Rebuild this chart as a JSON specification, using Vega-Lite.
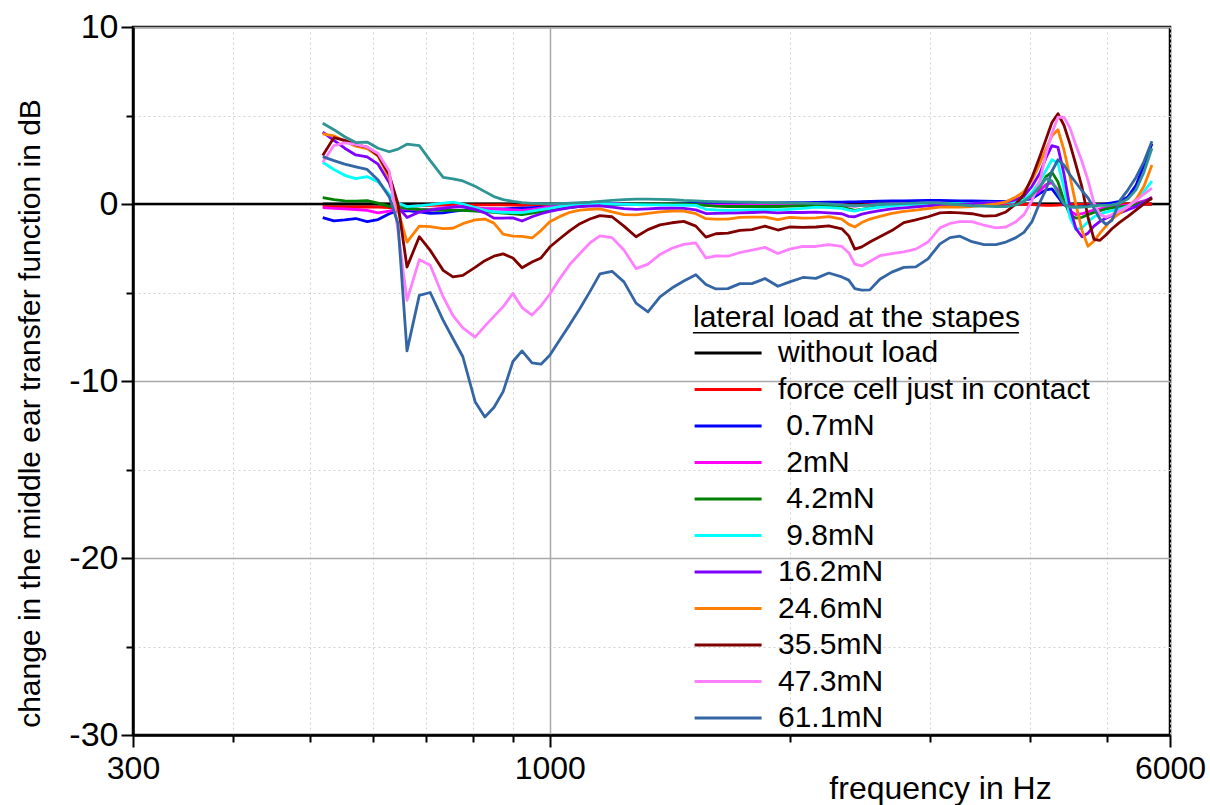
{
 "$schema": "https://vega.github.io/schema/vega-lite/v6.json",
 "width": 1037, "height": 708,
 "autosize": {"type": "none"},
 "padding": {"left": 133, "top": 27, "right": 40, "bottom": 70},
 "background": "white",
 "config": {
  "font": "Liberation Sans",
  "view": {"stroke": "black", "strokeWidth": 2.5},
  "axis": {"domainColor": "black", "domainWidth": 2.5, "tickColor": "black", "tickWidth": 2, "labelColor": "black", "titleColor": "black", "titleFontWeight": "normal", "labelFlush": false, "labelOverlap": false}
 },
 "datasets": {
  "names": [
   {"key": "w", "label": "without load"},
   {"key": "r", "label": "force cell just in contact"},
   {"key": "b", "label": "\u200b\u00a00.7mN"},
   {"key": "m", "label": "\u200b\u00a02mN"},
   {"key": "g", "label": "\u200b\u00a04.2mN"},
   {"key": "c", "label": "\u200b\u00a09.8mN"},
   {"key": "p", "label": "16.2mN"},
   {"key": "o", "label": "24.6mN"},
   {"key": "d", "label": "35.5mN"},
   {"key": "k", "label": "47.3mN"},
   {"key": "s", "label": "61.1mN"}
  ],
  "curves": [
   {"f":519,"w":0,"r":-0.15,"b":-0.77,"m":-0.2,"g":0.36,"c":2.36,"p":4.06,"o":3.96,"d":2.74,"k":2.36,"s":2.68,"t":4.56},
   {"f":536,"w":0,"r":-0.16,"b":-0.95,"m":-0.25,"g":0.25,"c":1.95,"p":3.6,"o":3.85,"d":3.75,"k":3.3,"s":2.45,"t":4.2},
   {"f":553,"w":0,"r":-0.17,"b":-0.9,"m":-0.28,"g":0.18,"c":1.62,"p":3.15,"o":3.55,"d":3.6,"k":3.45,"s":2.25,"t":3.8},
   {"f":571,"w":0,"r":-0.17,"b":-0.82,"m":-0.31,"g":0.16,"c":1.43,"p":2.77,"o":3.27,"d":3.35,"k":3.37,"s":2.1,"t":3.47},
   {"f":590,"w":0,"r":-0.17,"b":-1.0,"m":-0.36,"g":0.19,"c":1.55,"p":2.66,"o":3.13,"d":3.22,"k":3.22,"s":1.95,"t":3.5},
   {"f":609,"w":0,"r":-0.18,"b":-0.88,"m":-0.5,"g":0.05,"c":1.25,"p":2.25,"o":2.7,"d":2.75,"k":2.85,"s":1.35,"t":3.15},
   {"f":629,"w":0,"r":-0.2,"b":-0.55,"m":-0.4,"g":-0.13,"c":0.55,"p":1.2,"o":1.45,"d":1.65,"k":1.85,"s":0.4,"t":2.95},
   {"f":645,"w":0,"r":-0.25,"b":-0.38,"m":-0.3,"g":-0.19,"c":0.05,"p":-0.17,"o":-0.35,"d":0.0,"k":-1.5,"s":-1.1,"t":3.1},
   {"f":662,"w":0,"r":-0.15,"b":-0.38,"m":-0.27,"g":-0.24,"c":-0.15,"p":-0.76,"o":-2.15,"d":-3.56,"k":-5.44,"s":-8.3,"t":3.38},
   {"f":686,"w":0,"r":-0.1,"b":-0.45,"m":-0.34,"g":-0.31,"c":-0.1,"p":-0.45,"o":-1.25,"d":-1.85,"k":-3.14,"s":-5.16,"t":3.3},
   {"f":708,"w":0,"r":-0.08,"b":-0.53,"m":-0.3,"g":-0.34,"c":-0.04,"p":-0.36,"o":-1.28,"d":-2.62,"k":-3.46,"s":-5.0,"t":2.45},
   {"f":735,"w":0,"r":-0.06,"b":-0.5,"m":-0.22,"g":-0.36,"c":0.05,"p":-0.25,"o":-1.39,"d":-3.75,"k":-5.25,"s":-6.57,"t":1.5},
   {"f":756,"w":0,"r":-0.05,"b":-0.42,"m":-0.16,"g":-0.36,"c":0.11,"p":-0.18,"o":-1.37,"d":-4.12,"k":-6.3,"s":-7.6,"t":1.42},
   {"f":778,"w":0,"r":-0.05,"b":-0.35,"m":-0.14,"g":-0.36,"c":0.0,"p":-0.15,"o":-1.11,"d":-4.03,"k":-7.0,"s":-8.63,"t":1.3},
   {"f":806,"w":0,"r":-0.05,"b":-0.27,"m":-0.2,"g":-0.4,"c":-0.2,"p":-0.3,"o":-0.9,"d":-3.58,"k":-7.52,"s":-11.17,"t":1.0},
   {"f":829,"w":0,"r":-0.05,"b":-0.27,"m":-0.26,"g":-0.44,"c":-0.36,"p":-0.5,"o":-0.85,"d":-3.2,"k":-6.9,"s":-12.03,"t":0.7},
   {"f":851,"w":0,"r":-0.05,"b":-0.27,"m":-0.28,"g":-0.47,"c":-0.45,"p":-0.8,"o":-1.08,"d":-2.95,"k":-6.35,"s":-11.5,"t":0.42},
   {"f":874,"w":0,"r":-0.05,"b":-0.27,"m":-0.3,"g":-0.52,"c":-0.47,"p":-0.8,"o":-1.7,"d":-2.82,"k":-5.8,"s":-10.6,"t":0.25},
   {"f":899,"w":0,"r":-0.06,"b":-0.25,"m":-0.33,"g":-0.56,"c":-0.48,"p":-0.78,"o":-1.82,"d":-3.05,"k":-5.05,"s":-8.9,"t":0.15},
   {"f":923,"w":0,"r":-0.07,"b":-0.23,"m":-0.36,"g":-0.6,"c":-0.49,"p":-0.96,"o":-1.83,"d":-3.6,"k":-5.85,"s":-8.3,"t":0.08},
   {"f":950,"w":0,"r":-0.05,"b":-0.2,"m":-0.3,"g":-0.52,"c":-0.4,"p":-0.72,"o":-1.92,"d":-3.28,"k":-6.28,"s":-8.98,"t":0.04},
   {"f":975,"w":0,"r":-0.04,"b":-0.18,"m":-0.23,"g":-0.43,"c":-0.32,"p":-0.55,"o":-1.5,"d":-3.05,"k":-5.75,"s":-9.05,"t":0.02},
   {"f":1000,"w":0,"r":-0.03,"b":-0.17,"m":-0.17,"g":-0.36,"c":-0.25,"p":-0.42,"o":-1.0,"d":-2.43,"k":-5.1,"s":-8.55,"t":0.0},
   {"f":1030,"w":0,"r":-0.02,"b":-0.12,"m":-0.12,"g":-0.28,"c":-0.15,"p":-0.3,"o":-0.7,"d":-1.95,"k":-4.2,"s":-7.65,"t":0.02},
   {"f":1060,"w":0,"r":-0.02,"b":-0.08,"m":-0.08,"g":-0.2,"c":-0.08,"p":-0.2,"o":-0.47,"d":-1.5,"k":-3.4,"s":-6.8,"t":0.05},
   {"f":1091,"w":0,"r":-0.01,"b":-0.05,"m":-0.05,"g":-0.13,"c":-0.04,"p":-0.14,"o":-0.35,"d":-1.11,"k":-2.8,"s":-5.9,"t":0.08},
   {"f":1123,"w":0,"r":-0.01,"b":-0.03,"m":-0.03,"g":-0.08,"c":0.0,"p":-0.12,"o":-0.3,"d":-0.85,"k":-2.2,"s":-4.95,"t":0.1},
   {"f":1156,"w":0,"r":0.0,"b":-0.02,"m":-0.02,"g":-0.05,"c":0.02,"p":-0.1,"o":-0.27,"d":-0.66,"k":-1.8,"s":-3.95,"t":0.15},
   {"f":1197,"w":0,"r":0.0,"b":0.0,"m":0.0,"g":-0.02,"c":0.0,"p":-0.18,"o":-0.45,"d":-0.72,"k":-1.9,"s":-3.8,"t":0.2},
   {"f":1239,"w":0,"r":0.0,"b":0.0,"m":0.0,"g":0.0,"c":-0.02,"p":-0.26,"o":-0.6,"d":-1.25,"k":-2.6,"s":-4.4,"t":0.25},
   {"f":1283,"w":0,"r":0.0,"b":0.01,"m":0.02,"g":0.02,"c":-0.04,"p":-0.3,"o":-0.62,"d":-1.85,"k":-3.65,"s":-5.6,"t":0.28},
   {"f":1328,"w":0,"r":0.0,"b":0.01,"m":0.02,"g":0.02,"c":-0.05,"p":-0.27,"o":-0.53,"d":-1.45,"k":-3.4,"s":-6.1,"t":0.28},
   {"f":1375,"w":0,"r":0.0,"b":0.02,"m":0.02,"g":0.02,"c":-0.05,"p":-0.24,"o":-0.45,"d":-1.18,"k":-2.85,"s":-5.25,"t":0.26},
   {"f":1423,"w":0,"r":0.0,"b":0.02,"m":0.0,"g":0.02,"c":-0.06,"p":-0.23,"o":-0.4,"d":-1.06,"k":-2.5,"s":-4.75,"t":0.24},
   {"f":1473,"w":0,"r":-0.01,"b":0.02,"m":-0.02,"g":0.0,"c":-0.07,"p":-0.25,"o":-0.4,"d":-0.98,"k":-2.28,"s":-4.35,"t":0.2},
   {"f":1525,"w":0,"r":-0.02,"b":0.03,"m":-0.04,"g":-0.02,"c":-0.08,"p":-0.33,"o":-0.55,"d":-1.25,"k":-2.2,"s":-4.0,"t":0.18},
   {"f":1570,"w":0,"r":-0.04,"b":0.03,"m":-0.06,"g":-0.08,"c":-0.3,"p":-0.54,"o":-0.83,"d":-1.87,"k":-3.05,"s":-4.55,"t":0.15},
   {"f":1616,"w":0,"r":-0.05,"b":0.03,"m":-0.07,"g":-0.12,"c":-0.34,"p":-0.53,"o":-0.86,"d":-1.68,"k":-2.93,"s":-4.8,"t":0.13},
   {"f":1673,"w":0,"r":-0.05,"b":0.04,"m":-0.07,"g":-0.14,"c":-0.36,"p":-0.52,"o":-0.85,"d":-1.64,"k":-2.95,"s":-4.78,"t":0.12},
   {"f":1732,"w":0,"r":-0.04,"b":0.04,"m":-0.06,"g":-0.14,"c":-0.35,"p":-0.5,"o":-0.76,"d":-1.49,"k":-2.74,"s":-4.5,"t":0.11},
   {"f":1793,"w":0,"r":-0.03,"b":0.05,"m":-0.05,"g":-0.14,"c":-0.33,"p":-0.48,"o":-0.74,"d":-1.45,"k":-2.6,"s":-4.5,"t":0.1},
   {"f":1862,"w":0,"r":-0.02,"b":0.05,"m":-0.05,"g":-0.14,"c":-0.32,"p":-0.46,"o":-0.74,"d":-1.25,"k":-2.45,"s":-4.21,"t":0.08},
   {"f":1933,"w":0,"r":-0.02,"b":0.06,"m":-0.05,"g":-0.14,"c":-0.33,"p":-0.5,"o":-0.88,"d":-1.47,"k":-2.8,"s":-4.65,"t":0.07},
   {"f":2000,"w":0,"r":-0.02,"b":0.07,"m":-0.04,"g":-0.12,"c":-0.3,"p":-0.47,"o":-0.76,"d":-1.3,"k":-2.55,"s":-4.4,"t":0.06},
   {"f":2078,"w":0,"r":-0.02,"b":0.08,"m":-0.03,"g":-0.1,"c":-0.25,"p":-0.48,"o":-0.8,"d":-1.32,"k":-2.4,"s":-4.15,"t":0.05},
   {"f":2157,"w":0,"r":-0.02,"b":0.09,"m":-0.02,"g":-0.1,"c":-0.18,"p":-0.46,"o":-0.78,"d":-1.3,"k":-2.4,"s":-4.2,"t":0.03},
   {"f":2239,"w":0,"r":-0.03,"b":0.11,"m":-0.03,"g":-0.12,"c":-0.2,"p":-0.5,"o":-0.71,"d":-1.23,"k":-2.3,"s":-3.9,"t":0.0},
   {"f":2325,"w":0,"r":-0.04,"b":0.11,"m":-0.05,"g":-0.17,"c":-0.25,"p":-0.55,"o":-0.85,"d":-1.4,"k":-2.4,"s":-4.12,"t":-0.05},
   {"f":2372,"w":0,"r":-0.06,"b":0.12,"m":-0.1,"g":-0.28,"c":-0.35,"p":-0.7,"o":-1.15,"d":-1.8,"k":-2.75,"s":-4.3,"t":-0.08},
   {"f":2414,"w":0,"r":-0.07,"b":0.12,"m":-0.12,"g":-0.36,"c":-0.4,"p":-0.72,"o":-1.3,"d":-2.55,"k":-3.4,"s":-4.78,"t":-0.1},
   {"f":2463,"w":0,"r":-0.06,"b":0.13,"m":-0.08,"g":-0.3,"c":-0.3,"p":-0.57,"o":-1.05,"d":-2.42,"k":-3.5,"s":-4.87,"t":-0.08},
   {"f":2521,"w":0,"r":-0.05,"b":0.14,"m":-0.05,"g":-0.22,"c":-0.25,"p":-0.48,"o":-0.85,"d":-2.15,"k":-3.25,"s":-4.85,"t":-0.06},
   {"f":2595,"w":0,"r":-0.04,"b":0.16,"m":-0.03,"g":-0.15,"c":-0.18,"p":-0.38,"o":-0.7,"d":-1.85,"k":-2.92,"s":-4.25,"t":-0.02},
   {"f":2686,"w":0,"r":-0.03,"b":0.17,"m":0.0,"g":-0.08,"c":-0.1,"p":-0.28,"o":-0.53,"d":-1.5,"k":-2.8,"s":-3.85,"t":0.0},
   {"f":2781,"w":0,"r":-0.02,"b":0.18,"m":0.02,"g":-0.02,"c":-0.05,"p":-0.22,"o":-0.42,"d":-1.05,"k":-2.7,"s":-3.58,"t":0.02},
   {"f":2879,"w":0,"r":-0.01,"b":0.19,"m":0.03,"g":0.01,"c":-0.02,"p":-0.16,"o":-0.34,"d":-0.9,"k":-2.55,"s":-3.55,"t":0.05},
   {"f":2982,"w":0,"r":0.0,"b":0.2,"m":0.03,"g":0.02,"c":0.0,"p":-0.1,"o":-0.26,"d":-0.72,"k":-2.15,"s":-3.1,"t":0.08},
   {"f":3087,"w":0,"r":0.0,"b":0.2,"m":0.03,"g":0.03,"c":0.02,"p":-0.06,"o":-0.18,"d":-0.5,"k":-1.35,"s":-2.25,"t":0.05},
   {"f":3178,"w":0,"r":0.0,"b":0.19,"m":0.03,"g":0.03,"c":0.02,"p":-0.04,"o":-0.17,"d":-0.47,"k":-1.1,"s":-1.9,"t":0.0},
   {"f":3271,"w":0,"r":0.0,"b":0.18,"m":0.03,"g":0.03,"c":0.02,"p":-0.02,"o":-0.17,"d":-0.5,"k":-1.0,"s":-1.82,"t":-0.05},
   {"f":3386,"w":0,"r":0.0,"b":0.17,"m":0.03,"g":0.04,"c":0.03,"p":0.02,"o":-0.14,"d":-0.55,"k":-1.0,"s":-2.13,"t":-0.1},
   {"f":3506,"w":0,"r":0.0,"b":0.16,"m":0.03,"g":0.04,"c":0.05,"p":0.05,"o":-0.08,"d":-0.68,"k":-1.2,"s":-2.3,"t":-0.12},
   {"f":3629,"w":0,"r":0.0,"b":0.15,"m":0.04,"g":0.05,"c":0.07,"p":0.08,"o":0.0,"d":-0.66,"k":-1.35,"s":-2.3,"t":-0.15},
   {"f":3735,"w":0,"r":0.0,"b":0.15,"m":0.05,"g":0.08,"c":0.1,"p":0.11,"o":0.12,"d":-0.45,"k":-1.3,"s":-2.15,"t":-0.15},
   {"f":3845,"w":0,"r":0.0,"b":0.17,"m":0.1,"g":0.15,"c":0.14,"p":0.25,"o":0.4,"d":0.0,"k":-1.0,"s":-1.9,"t":-0.05},
   {"f":3935,"w":0,"r":-0.02,"b":0.22,"m":0.2,"g":0.28,"c":0.22,"p":0.45,"o":0.7,"d":0.55,"k":-0.6,"s":-1.6,"t":0.15},
   {"f":4027,"w":0,"r":-0.04,"b":0.3,"m":0.4,"g":0.5,"c":0.65,"p":1.0,"o":1.35,"d":1.5,"k":0.2,"s":-1.0,"t":0.5},
   {"f":4121,"w":0,"r":-0.06,"b":0.6,"m":0.75,"g":0.95,"c":1.3,"p":1.75,"o":2.3,"d":2.7,"k":1.33,"s":0.1,"t":1.0},
   {"f":4193,"w":0,"r":-0.08,"b":0.8,"m":1.1,"g":1.55,"c":1.9,"p":2.6,"o":3.1,"d":3.65,"k":2.8,"s":0.8,"t":1.45},
   {"f":4266,"w":0,"r":-0.08,"b":0.85,"m":1.2,"g":1.8,"c":2.5,"p":3.3,"o":3.85,"d":4.6,"k":4.0,"s":1.85,"t":1.3},
   {"f":4341,"w":0,"r":-0.06,"b":0.4,"m":0.8,"g":1.24,"c":2.3,"p":3.2,"o":4.2,"d":5.1,"k":4.9,"s":2.5,"t":0.6},
   {"f":4417,"w":0,"r":-0.04,"b":-0.05,"m":0.1,"g":0.2,"c":0.9,"p":1.7,"o":3.05,"d":4.45,"k":4.9,"s":2.2,"t":0.0},
   {"f":4494,"w":0,"r":-0.03,"b":-0.15,"m":-0.4,"g":-0.6,"c":-0.75,"p":-0.2,"o":1.55,"d":3.4,"k":4.3,"s":1.65,"t":-0.17},
   {"f":4573,"w":0,"r":-0.02,"b":-0.17,"m":-0.6,"g":-0.8,"c":-1.45,"p":-1.4,"o":-0.05,"d":2.2,"k":3.3,"s":1.2,"t":-0.17},
   {"f":4653,"w":0,"r":-0.02,"b":-0.15,"m":-0.55,"g":-0.75,"c":-1.35,"p":-1.85,"o":-1.49,"d":0.95,"k":2.4,"s":0.75,"t":-0.17},
   {"f":4734,"w":0,"r":-0.02,"b":-0.1,"m":-0.45,"g":-0.6,"c":-1.0,"p":-1.65,"o":-2.39,"d":-0.74,"k":1.35,"s":0.35,"t":-0.15},
   {"f":4817,"w":0,"r":-0.02,"b":-0.06,"m":-0.35,"g":-0.48,"c":-0.72,"p":-1.25,"o":-2.1,"d":-2.0,"k":0.05,"s":-0.25,"t":-0.1},
   {"f":4901,"w":0,"r":-0.02,"b":-0.03,"m":-0.28,"g":-0.38,"c":-0.58,"p":-0.98,"o":-1.65,"d":-2.05,"k":-0.6,"s":-0.85,"t":-0.08},
   {"f":4987,"w":0,"r":-0.02,"b":0.0,"m":-0.22,"g":-0.28,"c":-0.46,"p":-0.8,"o":-1.25,"d":-1.75,"k":-0.74,"s":-1.15,"t":-0.08},
   {"f":5074,"w":0,"r":-0.01,"b":0.06,"m":-0.18,"g":-0.22,"c":-0.38,"p":-0.65,"o":-0.85,"d":-1.4,"k":-0.6,"s":-0.92,"t":-0.05},
   {"f":5193,"w":0,"r":-0.01,"b":0.15,"m":-0.12,"g":-0.16,"c":-0.28,"p":-0.5,"o":-0.5,"d":-1.02,"k":-0.38,"s":0.2,"t":0.05},
   {"f":5314,"w":0,"r":0.0,"b":0.4,"m":-0.06,"g":-0.12,"c":-0.12,"p":-0.32,"o":-0.15,"d":-0.7,"k":-0.15,"s":0.8,"t":0.3},
   {"f":5438,"w":0,"r":0.0,"b":1.05,"m":0.05,"g":-0.03,"c":0.2,"p":-0.15,"o":0.25,"d":-0.35,"k":0.2,"s":1.5,"t":0.8},
   {"f":5565,"w":0,"r":0.0,"b":2.2,"m":0.18,"g":0.12,"c":0.7,"p":0.1,"o":1.0,"d":0.0,"k":0.55,"s":2.4,"t":1.8},
   {"f":5695,"w":0,"r":0.0,"b":3.4,"m":0.3,"g":0.3,"c":1.3,"p":0.39,"o":2.2,"d":0.35,"k":0.9,"s":3.55,"t":3.15}
  ]
 },
 "layer": [
  {
   "data": {"values": [{"z": 0}]},
   "mark": {"type": "rule", "color": "black", "strokeWidth": 2.5},
   "encoding": {
    "y": {"field": "z", "type": "quantitative", "scale": {"domain": [-30, 10], "nice": false, "zero": false},
     "axis": {
      "values": [-30, -25, -20, -15, -10, -5, 0, 5, 10],
      "labelExpr": "datum.value % 10 == 0 ? toString(datum.value) : ''",
      "title": "change in the middle ear transfer function in dB",
      "titleFontSize": 30, "titleX": -103, "titleY": 386, "titleAngle": -90, "titleAlign": "center", "titleBaseline": "middle",
      "labelFontSize": 34, "labelPadding": 3,
      "tickSize": {"condition": {"test": "datum.value % 10 == 0", "value": 12}, "value": 7},
      "grid": true,
      "gridColor": {"condition": {"test": "datum.value % 10 == 0", "value": "#a9a9a9"}, "value": "#d2d2d2"},
      "gridDash": {"condition": {"test": "datum.value % 10 == 0", "value": []}, "value": [2, 3]},
      "gridWidth": {"condition": {"test": "datum.value % 10 == 0", "value": 1.5}, "value": 1}
     }
    }
   }
  },
  {
   "data": {"name": "curves"},
   "transform": [
    {"fold": ["w", "r", "b", "m", "g", "c", "p", "o", "d", "k", "s"], "as": ["key", "val"]},
    {"lookup": "key", "from": {"data": {"name": "names"}, "key": "key", "fields": ["label"]}}
   ],
   "mark": {"type": "line", "strokeWidth": 2.8, "strokeJoin": "round"},
   "encoding": {
    "x": {"field": "f", "type": "quantitative", "scale": {"type": "log", "domain": [300, 6000], "nice": false},
     "axis": {
      "values": [300, 400, 500, 600, 700, 800, 900, 1000, 2000, 3000, 4000, 5000, 6000],
      "labelExpr": "(datum.value == 300 || datum.value == 1000 || datum.value == 6000) ? toString(datum.value) : ''",
      "title": "frequency in Hz",
      "titleFontSize": 32, "titleX": 807, "titleY": 63, "titleAlign": "center", "titleBaseline": "alphabetic",
      "labelFontSize": 32, "labelPadding": 6,
      "tickSize": {"condition": {"test": "datum.value == 300 || datum.value == 1000 || datum.value == 6000", "value": 12}, "value": 7},
      "grid": true,
      "gridColor": {"condition": {"test": "datum.value == 1000", "value": "#a9a9a9"}, "value": "#d2d2d2"},
      "gridDash": {"condition": {"test": "datum.value == 1000", "value": []}, "value": [2, 3]},
      "gridWidth": {"condition": {"test": "datum.value == 1000", "value": 1.5}, "value": 1}
     }
    },
    "y": {"field": "val", "type": "quantitative"},
    "color": {
     "field": "label", "type": "nominal",
     "scale": {
      "domain": ["without load", "force cell just in contact", "\u200b\u00a00.7mN", "\u200b\u00a02mN", "\u200b\u00a04.2mN", "\u200b\u00a09.8mN", "16.2mN", "24.6mN", "35.5mN", "47.3mN", "61.1mN"],
      "range": ["#000000", "#ff0000", "#0000ff", "#ff00ff", "#008000", "#00ffff", "#8000ff", "#ff8000", "#800000", "#ff80ff", "#3465a4"]
     },
     "legend": {
      "orient": "none", "legendX": 560, "legendY": 276,
      "title": "lateral load at the stapes", "titleLimit": 800,
      "titleFontSize": 30, "titleFontWeight": "normal", "titleColor": "black", "titlePadding": 5,
      "labelFontSize": 30, "labelColor": "black", "labelLimit": 600,
      "symbolType": "M-1,0L4,0", "symbolSize": 718, "symbolStrokeWidth": 3,
      "labelOffset": 55, "rowPadding": 6.5
     }
    }
   }
  },
  {
   "data": {"name": "curves"},
   "mark": {"type": "line", "strokeWidth": 2.8, "strokeJoin": "round", "color": "#2e9494"},
   "encoding": {
    "x": {"field": "f", "type": "quantitative"},
    "y": {"field": "t", "type": "quantitative"}
   }
  },
  {
   "data": {"values": [{"x1": 1512, "x2": 3878, "y": -7.27}]},
   "mark": {"type": "rule", "color": "black", "strokeWidth": 1.5},
   "encoding": {
    "x": {"field": "x1", "type": "quantitative"},
    "x2": {"field": "x2"},
    "y": {"field": "y", "type": "quantitative"}
   }
  }
 ]
}
